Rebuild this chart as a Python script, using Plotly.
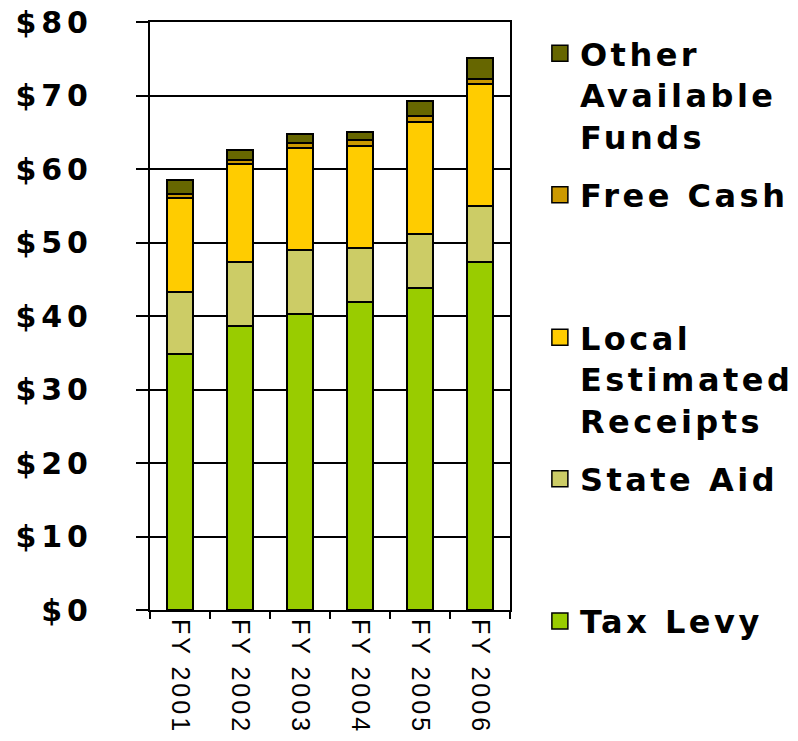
import plotly.graph_objects as go

categories = ["FY 2001", "FY 2002", "FY 2003", "FY 2004", "FY 2005", "FY 2006"]
tax_levy = [34.8, 38.7, 40.3, 41.9, 43.8, 47.35]
state_aid = [8.5, 8.7, 8.7, 7.35, 7.4, 7.65]
local_receipts = [12.7, 13.3, 13.9, 13.85, 15.2, 16.5]
free_cash = [0.55, 0.5, 0.7, 0.8, 0.8, 0.8]
other_funds = [1.95, 1.4, 1.1, 1.1, 2.1, 2.8]
y_ticks = [0, 10, 20, 30, 40, 50, 60, 70, 80]
y_tick_labels = ["$0", "$10", "$20", "$30", "$40", "$50", "$60", "$70", "$80"]

BLANK = "\u00a0<br>\u00a0<br>"  # pad so the swatch lines up with the first line
series = [
    ("Tax Levy", tax_levy, "#99CC00", "legend5", -0.019),
    ("State Aid", state_aid, "#CCCC66", "legend4", 0.223),
    (BLANK + "Local<br>Estimated<br>Receipts", local_receipts, "#FFCC00", "legend3", 0.464),
    ("Free Cash", free_cash, "#CC9900", "legend2", 0.706),
    (BLANK + "Other<br>Available<br>Funds", other_funds, "#666600", "legend", 0.947),
]

fig = go.Figure()
legend_layout = {}
for name, vals, color, leg, ly in series:
    fig.add_trace(go.Bar(
        x=categories, y=vals, name=name, showlegend=False,
        marker=dict(color=color, line=dict(color="black", width=2)),
    ))
    # legend-only entry with a bigger square swatch
    fig.add_trace(go.Scatter(
        x=[None], y=[None], mode="markers", name=name, legend=leg,
        marker=dict(symbol="square", size=16, color=color,
                    line=dict(color="black", width=1.5)),
    ))
    legend_layout[leg] = dict(
        x=1.083, y=ly, xanchor="left", yanchor="middle",
        bgcolor="rgba(0,0,0,0)", itemsizing="trace",
        font=dict(family="DejaVu Sans", size=32, color="black", weight="bold"),
    )

fig.update_layout(
    barmode="stack",
    bargap=0.58,
    width=798, height=741,
    margin=dict(l=150, r=288, t=22, b=131, autoexpand=False),
    plot_bgcolor="white", paper_bgcolor="white",
    **legend_layout,
)
fig.update_xaxes(
    type="category", tickson="boundaries", ticks="outside", ticklen=7,
    tickwidth=2, tickcolor="black", tickangle=90, ticklabelstandoff=2,
    tickfont=dict(family="Liberation Sans", size=25, color="black"),
    showline=True, linecolor="black", linewidth=2, mirror=True, showgrid=False,
)
fig.update_yaxes(
    range=[0, 80], tickvals=y_ticks, ticktext=y_tick_labels, ticks="outside", ticklen=12,
    tickwidth=2, tickcolor="black", ticklabelstandoff=37, ticklabeloverflow="allow",
    tickfont=dict(family="DejaVu Sans", size=30, color="black", weight="bold"),
    showline=True, linecolor="black", linewidth=2, mirror=True,
    showgrid=True, gridcolor="black", gridwidth=1.5, zeroline=False,
)

# wider letter spacing like the original, via a stylesheet so every redraw gets it
post = """
var s = document.createElement('style');
s.textContent = 'body{margin:0}' +
  '.infolayer text{letter-spacing:3.5px}' +
  '.ytick text{letter-spacing:5px}' +
  '.xtick text{letter-spacing:3px}' +
  '.infolayer g{clip-path:none !important}';
document.head.appendChild(s);
"""

fig.write_html("out.html", post_script=post, config={"displayModeBar": False})
